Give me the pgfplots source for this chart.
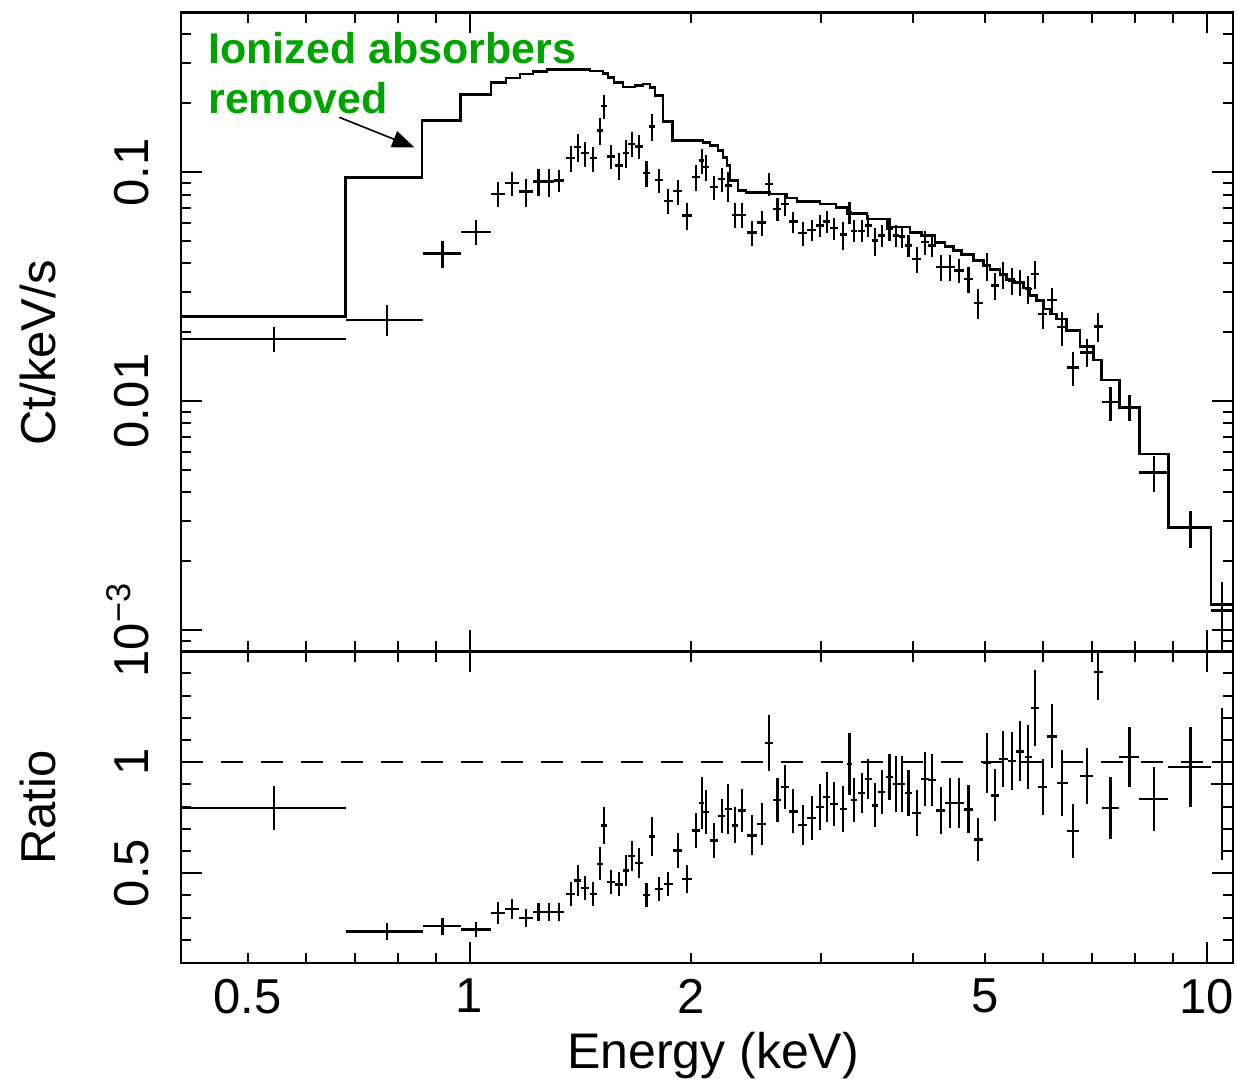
\documentclass[border=0pt]{standalone}
\usepackage{fontspec}
\setmainfont{Liberation Sans}
\usepackage{pgfplots}
\pgfplotsset{compat=1.18}
\usepackage{pgfplotstable}
\usetikzlibrary{arrows.meta, calc}
\definecolor{labelgreen}{RGB}{0,163,0}

% binned spectrum: energy, half bin width, counts, error, ratio, error
\pgfplotstableread{
E dE F dF R dR
0.543 0.137 0.01872 0.00235 0.794 0.100
0.772 0.092 0.02272 0.0035 0.237 0.039
0.919 0.055 0.04426 0.0059 0.261 0.039
1.021 0.047 0.05490 0.0069 0.246 0.032
1.094 0.024 0.08045 0.0101 0.321 0.049
1.141 0.025 0.08989 0.0109 0.339 0.045
1.193 0.025 0.08234 0.0116 0.299 0.041
1.240 0.022 0.09108 0.0119 0.324 0.041
1.282 0.021 0.09108 0.0128 0.324 0.041
1.323 0.022 0.09200 0.0102 0.324 0.041
1.372 0.020 0.11513 0.0151 0.407 0.054
1.402 0.016 0.12856 0.0181 0.467 0.069
1.435 0.018 0.12106 0.0152 0.434 0.054
1.472 0.017 0.11513 0.0145 0.407 0.054
1.503 0.013 0.15208 0.0199 0.542 0.075
1.522 0.013 0.19427 0.0235 0.715 0.083
1.556 0.018 0.11712 0.0141 0.460 0.054
1.595 0.018 0.10697 0.0140 0.449 0.054
1.629 0.016 0.12106 0.0171 0.512 0.068
1.660 0.017 0.13303 0.0167 0.577 0.068
1.698 0.020 0.12947 0.0156 0.546 0.068
1.739 0.017 0.09900 0.0129 0.402 0.054
1.767 0.017 0.15834 0.0207 0.665 0.086
1.807 0.023 0.09264 0.0112 0.429 0.054
1.861 0.027 0.07521 0.0095 0.452 0.054
1.916 0.028 0.08259 0.0104 0.602 0.077
1.973 0.028 0.06469 0.0088 0.472 0.063
2.029 0.024 0.09510 0.0120 0.692 0.081
2.065 0.016 0.11249 0.0141 0.815 0.117
2.093 0.020 0.10516 0.0138 0.775 0.099
2.146 0.026 0.08599 0.0104 0.647 0.077
2.199 0.025 0.09358 0.0113 0.757 0.077
2.244 0.023 0.08747 0.0132 0.790 0.113
2.292 0.024 0.06515 0.0082 0.715 0.081
2.343 0.031 0.06515 0.0082 0.782 0.099
2.415 0.037 0.05467 0.0069 0.670 0.090
2.492 0.034 0.06046 0.0076 0.722 0.095
2.551 0.031 0.08899 0.0103 1.086 0.126
2.616 0.032 0.06918 0.0080 0.830 0.099
2.680 0.034 0.07275 0.0081 0.887 0.099
2.750 0.038 0.06089 0.0064 0.778 0.099
2.832 0.041 0.05413 0.0065 0.718 0.090
2.913 0.039 0.05601 0.0059 0.748 0.099
2.989 0.035 0.05849 0.0065 0.797 0.104
3.053 0.033 0.06089 0.0067 0.842 0.113
3.123 0.041 0.05715 0.0063 0.812 0.099
3.215 0.038 0.05343 0.0075 0.790 0.104
3.276 0.028 0.06687 0.0074 0.992 0.140
3.324 0.032 0.05561 0.0062 0.828 0.099
3.405 0.038 0.05561 0.0062 0.860 0.090
3.476 0.036 0.05849 0.0065 0.925 0.090
3.550 0.037 0.05030 0.0071 0.805 0.099
3.625 0.041 0.05290 0.0059 0.865 0.099
3.712 0.042 0.05658 0.0063 0.932 0.104
3.790 0.037 0.05290 0.0059 0.902 0.126
3.858 0.037 0.05238 0.0058 0.902 0.126
3.939 0.046 0.04783 0.0053 0.862 0.104
4.043 0.053 0.04184 0.0055 0.770 0.104
4.150 0.049 0.04945 0.0060 0.925 0.122
4.238 0.052 0.04783 0.0053 0.920 0.117
4.358 0.063 0.03846 0.0050 0.782 0.104
4.487 0.065 0.03846 0.0050 0.817 0.113
4.615 0.066 0.03720 0.0045 0.817 0.113
4.751 0.071 0.03421 0.0045 0.787 0.108
4.901 0.070 0.02678 0.0040 0.652 0.098
5.032 0.066 0.03912 0.0055 0.997 0.135
5.164 0.067 0.03199 0.0042 0.850 0.117
5.299 0.070 0.03573 0.0047 1.015 0.126
5.440 0.071 0.03363 0.0044 1.005 0.131
5.583 0.072 0.03306 0.0043 1.048 0.135
5.730 0.067 0.03093 0.0044 1.023 0.144
5.851 0.066 0.03598 0.0051 1.243 0.171
5.993 0.081 0.02407 0.0034 0.887 0.126
6.176 0.095 0.02771 0.0036 1.116 0.144
6.372 0.105 0.02103 0.0036 0.905 0.149
6.595 0.126 0.01406 0.0024 0.689 0.122
6.877 0.134 0.01635 0.0023 0.936 0.126
7.131 0.103 0.02118 0.0030 1.405 0.126
7.410 0.203 0.009890 0.0017 0.794 0.140
7.860 0.247 0.009405 0.0012 1.023 0.135
8.492 0.385 0.004891 0.00086 0.835 0.144
9.505 0.628 0.002812 0.00052 0.978 0.180
10.498 0.366 0.001217 0.0004 0.902 0.342
}\spectrum

% unabsorbed model, left bin edge and level
\pgfplotstableread{
E F
0.406 0.02349
0.6785 0.09510
0.8620 0.16822
0.9717 0.21892
1.0695 0.24647
1.1209 0.25839
1.1708 0.26900
1.2191 0.27613
1.2739 0.28090
1.4572 0.27699
1.5174 0.27062
1.5413 0.25995
1.5705 0.24722
1.6152 0.23560
1.6769 0.23918
1.7193 0.24331
1.7573 0.23508
1.7850 0.21625
1.8301 0.16703
1.8864 0.13750
2.0738 0.13476
2.1197 0.13064
2.1733 0.12441
2.2075 0.11593
2.2353 0.10697
2.2563 0.09200
2.3135 0.08318
2.3721 0.08177
2.5570 0.08045
2.6963 0.07729
2.7820 0.07447
2.9893 0.07275
3.1425 0.07030
3.2523 0.06620
3.4620 0.06258
3.6852 0.05761
3.9597 0.05467
4.1071 0.05290
4.2813 0.04945
4.4170 0.04735
4.5332 0.04549
4.6537 0.04369
4.8256 0.04114
4.9785 0.03912
5.0839 0.03758
5.2449 0.03573
5.3559 0.03397
5.4673 0.03306
5.6409 0.03124
5.7603 0.02891
5.8822 0.02749
6.0047 0.02530
6.1317 0.02407
6.2613 0.02289
6.4600 0.02035
6.7344 0.01732
7.0201 0.01515
7.2067 0.01239
7.6132 0.009405
8.1074 0.005886
8.8770 0.002812
10.132 0.001293
10.863 0.001293
}\model

\begin{document}
\begin{tikzpicture}
\begin{axis}[name=top,
    scale only axis, width=526pt, height=319.4pt,
    xmode=log, xmin=0.406, xmax=10.86,
    ymode=log, ymin=8.1e-4, ymax=0.5,
    xtick={1,10},
    minor xtick={0.5,0.6,0.7,0.8,0.9,2,3,4,5,6,7,8,9},
    xticklabels={},
    ytick={0.001,0.01,0.1},
    yticklabels={10\textsuperscript{−3},0.01,0.1},
    minor ytick={0.0009,0.002,0.003,0.004,0.005,0.006,0.007,0.008,0.009,
                 0.02,0.03,0.04,0.05,0.06,0.07,0.08,0.09,0.2,0.3,0.4},
    xtick pos=both, ytick pos=both, tick align=inside,
    major tick length=10.5pt, minor tick length=5.25pt,
    tick style={line width=1pt, black},
    axis line style={line width=1.4pt},
    tick label style={font=\fontsize{24.5}{28}\selectfont},
    label style={font=\fontsize{24.5}{28}\selectfont},
    yticklabel style={rotate=90, anchor=south},
    yticklabel shift=12.5pt,
    ylabel={Ct/keV/s},
    ylabel style={at={(axis description cs:-0.119,0.467)}, anchor=base},
  ]
  \addplot[const plot, line width=1.3pt, black] table[x=E, y=F] {\model};
  \addplot[draw=none, mark=none,
    error bars/.cd, x dir=both, x explicit, y dir=both, y explicit,
    error mark=none, error bar style={draw=black, solid, line width=1.15pt}]
    table[x=E, y=F, x error=dE, y error=dF] {\spectrum};
  \node[anchor=base west, inner sep=0, text=labelgreen,
        font=\fontsize{21.5}{25}\selectfont\bfseries] at (axis cs:0.4417,0.2975) {Ionized absorbers};
  \node[anchor=base west, inner sep=0, text=labelgreen,
        font=\fontsize{21.5}{25}\selectfont\bfseries] at (axis cs:0.4417,0.1799) {removed};
  \draw[line width=0.8pt, -{Triangle[length=11pt, width=8.5pt]}]
    (axis cs:0.6657,0.1739) -- (axis cs:0.8416,0.1286);
\end{axis}
\begin{axis}[name=bot,
    at={(top.south west)}, anchor=north west,
    scale only axis, width=526pt, height=155.96pt,
    xmode=log, xmin=0.406, xmax=10.86,
    ymin=0.095, ymax=1.5,
    xtick={1,10}, xticklabels={1,10},
    minor xtick={0.5,0.6,0.7,0.8,0.9,2,3,4,5,6,7,8,9},
    extra x ticks={0.5,2,5}, extra x tick labels={0.5,2,5},
    extra x tick style={major tick length=5.25pt},
    ytick={0.5,1}, yticklabels={0.5,1},
    minor ytick={0.2,0.3,0.4,0.6,0.7,0.8,0.9,1.1,1.2,1.3,1.4},
    xtick pos=both, ytick pos=both, tick align=inside,
    major tick length=10.5pt, minor tick length=5.25pt,
    tick style={line width=1pt, black},
    axis line style={line width=1.4pt},
    tick label style={font=\fontsize{24.5}{28}\selectfont},
    label style={font=\fontsize{24.5}{28}\selectfont},
    yticklabel style={rotate=90, anchor=south},
    yticklabel shift=12.5pt,
    xticklabel shift=4.5pt,
    xlabel={Energy (keV)},
    xlabel style={at={(axis description cs:0.5,0)}, anchor=base, yshift=-52.5pt, xshift=3pt,
                  font=\fontsize{25}{28}\selectfont},
    ylabel={Ratio},
    ylabel style={at={(axis description cs:-0.119,0.498)}, anchor=base},
  ]
  \addplot[black, line width=1.2pt, dash pattern=on 11pt off 9pt] coordinates {(0.406,1) (10.86,1)};
  \addplot[draw=none, mark=none,
    error bars/.cd, x dir=both, x explicit, y dir=both, y explicit,
    error mark=none, error bar style={draw=black, solid, line width=1.15pt}]
    table[x=E, y=R, x error=dE, y error=dR] {\spectrum};
\end{axis}
\pgfresetboundingbox
\path[use as bounding box] ($(top.north west)+(-90.5pt,6.15pt)$) rectangle ($(bot.south east)+(2pt,-58pt)$);
\end{tikzpicture}
\end{document}
